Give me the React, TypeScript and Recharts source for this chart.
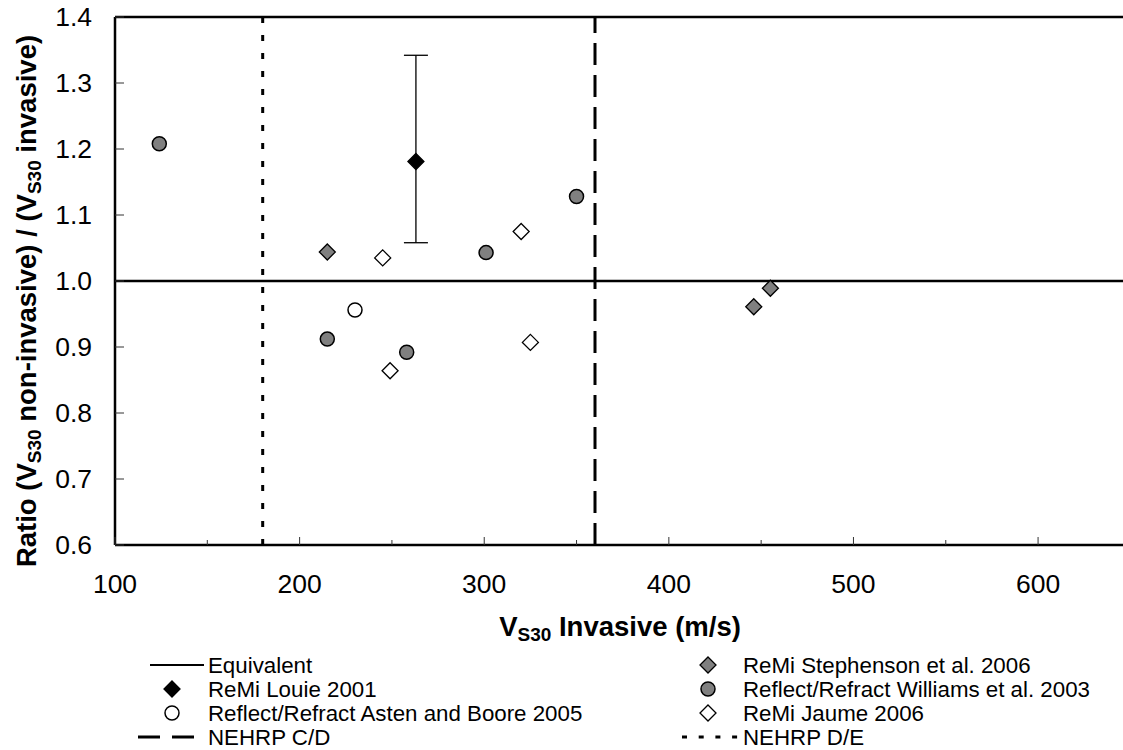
import React from "react";
import {
  ScatterChart,
  Scatter,
  XAxis,
  YAxis,
  ReferenceLine,
  ErrorBar,
} from "recharts";

// V_S30 invasive (m/s) vs ratio non-invasive / invasive
const louie = [{ x: 263, y: 1.181, err: [0.123, 0.161] }];
const stephenson = [
  { x: 215, y: 1.044 },
  { x: 446, y: 0.961 },
  { x: 455, y: 0.989 },
];
const williams = [
  { x: 124, y: 1.208 },
  { x: 215, y: 0.912 },
  { x: 258, y: 0.892 },
  { x: 301, y: 1.043 },
  { x: 350, y: 1.128 },
];
const asten = [{ x: 230, y: 0.956 }];
const jaume = [
  { x: 245, y: 1.035 },
  { x: 249, y: 0.864 },
  { x: 320, y: 1.075 },
  { x: 325, y: 0.907 },
];

const xTicks = [100, 150, 200, 250, 300, 350, 400, 450, 500, 550, 600];
const yTicks = [0.6, 0.7, 0.8, 0.9, 1.0, 1.1, 1.2, 1.3, 1.4];
const nehrpCD = 360;
const nehrpDE = 180;
const equivalent = 1.0;

const FONT = "'Liberation Sans', Arial, sans-serif";
const GRAY = "#808080";

const diamond = (fill: string) => (props: any) => {
  const { cx, cy } = props;
  const r = 8;
  return (
    <path
      d={`M${cx},${cy - r}L${cx + r},${cy}L${cx},${cy + r}L${cx - r},${cy}Z`}
      fill={fill}
      stroke="#000"
      strokeWidth={1.3}
    />
  );
};

const circle = (fill: string) => (props: any) => {
  const { cx, cy } = props;
  return <circle cx={cx} cy={cy} r={7} fill={fill} stroke="#000" strokeWidth={1.5} />;
};

const XTick = (props: any) => {
  const { x, y, payload } = props;
  const major = payload.value % 100 === 0;
  return (
    <g>
      <line x1={x} y1={y} x2={x} y2={y - (major ? 8 : 5)} stroke="#333" strokeWidth={1} />
      {major && (
        <text x={x} y={y + 48} textAnchor="middle" fontSize={26.5} fontFamily={FONT} fill="#000">
          {payload.value}
        </text>
      )}
    </g>
  );
};

const YTick = (props: any) => {
  const { x, y, payload } = props;
  return (
    <g>
      <line x1={x} y1={y} x2={x + 9} y2={y} stroke="#333" strokeWidth={1} />
      <text x={x - 23} y={y + 9} textAnchor="end" fontSize={26.5} fontFamily={FONT} fill="#000">
        {payload.value.toFixed(1)}
      </text>
    </g>
  );
};

function LegendBox() {
  const rowY = [665, 689, 713, 737];
  const txt = { fontSize: 22.3, fontFamily: FONT, fill: "#000" };
  return (
    <svg width={1123} height={750} style={{ position: "absolute", left: 0, top: 0, pointerEvents: "none" }}>
      {/* left column */}
      <line x1={150} y1={rowY[0]} x2={204} y2={rowY[0]} stroke="#000" strokeWidth={2} />
      <text x={208} y={rowY[0] + 8} {...txt}>Equivalent</text>
      {diamond("#000")({ cx: 172, cy: rowY[1] })}
      <text x={208} y={rowY[1] + 8} {...txt}>ReMi Louie 2001</text>
      {circle("#fff")({ cx: 172, cy: rowY[2] })}
      <text x={208} y={rowY[2] + 8} {...txt}>Reflect/Refract Asten and Boore 2005</text>
      <line x1={138} y1={rowY[3]} x2={194} y2={rowY[3]} stroke="#000" strokeWidth={3} strokeDasharray="22 12" />
      <text x={208} y={rowY[3] + 8} {...txt}>NEHRP C/D</text>
      {/* right column */}
      {diamond(GRAY)({ cx: 708, cy: rowY[0] })}
      <text x={743} y={rowY[0] + 8} {...txt}>ReMi Stephenson et al. 2006</text>
      {circle(GRAY)({ cx: 708, cy: rowY[1] })}
      <text x={743} y={rowY[1] + 8} {...txt}>Reflect/Refract Williams et al. 2003</text>
      {diamond("#fff")({ cx: 708, cy: rowY[2] })}
      <text x={743} y={rowY[2] + 8} {...txt}>ReMi Jaume 2006</text>
      <line x1={682} y1={rowY[3]} x2={738} y2={rowY[3]} stroke="#000" strokeWidth={3} strokeDasharray="5 11.7" />
      <text x={743} y={rowY[3] + 8} {...txt}>NEHRP D/E</text>
    </svg>
  );
}

const XTitle = () => (
  <text x={620} y={636} textAnchor="middle" fontSize={27.5} fontWeight="bold" fontFamily={FONT}>
    V<tspan fontSize={19} dy={5}>S30</tspan>
    <tspan dy={-5}> Invasive (m/s)</tspan>
  </text>
);

const YTitle = () => (
  <text
    x={36}
    y={301}
    textAnchor="middle"
    fontSize={27.5}
    fontWeight="bold"
    fontFamily={FONT}
    transform="rotate(-90, 36, 301)"
  >
    Ratio (V<tspan fontSize={19} dy={5}>S30</tspan>
    <tspan dy={-5}> non-invasive) / (V</tspan>
    <tspan fontSize={19} dy={5}>S30</tspan>
    <tspan dy={-5}> invasive)</tspan>
  </text>
);

export default function App() {
  return (
    <div style={{ position: "absolute", left: 0, top: 0, width: 1123, height: 750, background: "#fff" }}>
      <ScatterChart width={1123} height={750} margin={{ top: 17, right: 0, bottom: 0, left: 0 }}>
        <XAxis
          type="number"
          dataKey="x"
          domain={[100, 646]}
          ticks={xTicks}
          interval={0}
          height={205}
          tickSize={0}
          tickMargin={0}
          tick={<XTick />}
          axisLine={{ stroke: "#000", strokeWidth: 2.5 }}
          allowDataOverflow
          label={{ content: () => <XTitle /> }}
        />
        <YAxis
          type="number"
          dataKey="y"
          domain={[0.6, 1.4]}
          ticks={yTicks}
          interval={0}
          width={115}
          tickSize={0}
          tickMargin={0}
          tick={<YTick />}
          axisLine={{ stroke: "#000", strokeWidth: 2.5 }}
          allowDataOverflow
          label={{ content: () => <YTitle /> }}
        />
        <ReferenceLine y={1.4} stroke="#000" strokeWidth={2.5} />
        <ReferenceLine y={equivalent} stroke="#000" strokeWidth={2.5} />
        <ReferenceLine x={nehrpCD} stroke="#000" strokeWidth={3} strokeDasharray="22 10" />
        <ReferenceLine x={nehrpDE} stroke="#000" strokeWidth={3} strokeDasharray="6 12" />
        <Scatter data={louie} shape={diamond("#000")} isAnimationActive={false}>
          <ErrorBar dataKey="err" direction="y" width={12} stroke="#000" strokeWidth={1.3} />
        </Scatter>
        <Scatter data={stephenson} shape={diamond(GRAY)} isAnimationActive={false} />
        <Scatter data={williams} shape={circle(GRAY)} isAnimationActive={false} />
        <Scatter data={asten} shape={circle("#fff")} isAnimationActive={false} />
        <Scatter data={jaume} shape={diamond("#fff")} isAnimationActive={false} />
      </ScatterChart>
      <LegendBox />
    </div>
  );
}
